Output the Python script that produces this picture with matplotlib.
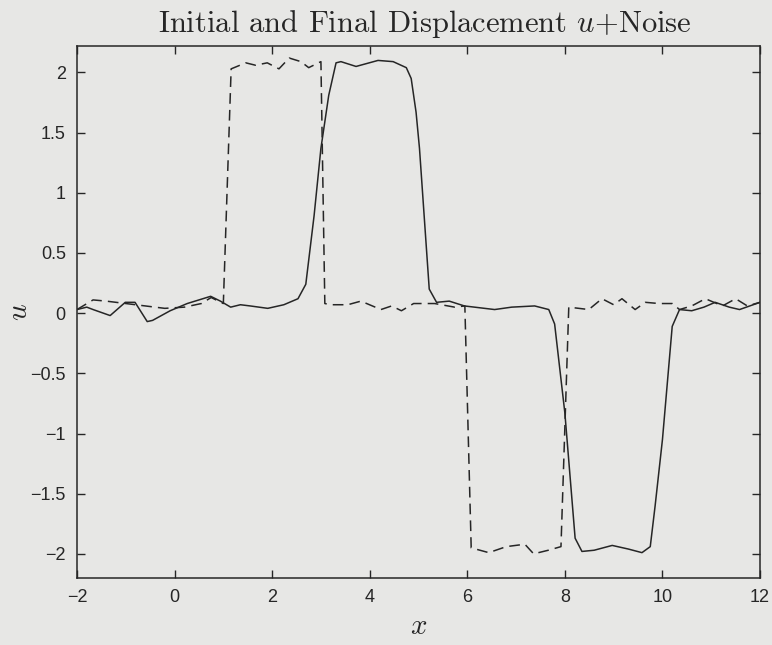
import numpy as np
import matplotlib.pyplot as plt

# initial displacement + noise (dashed)
x_init = [-2.0, -1.67, -1.4, -1.0, -0.6, -0.2, 0.2, 0.55, 0.75, 1.0,
          1.16, 1.46, 1.66, 1.90, 2.14, 2.35, 2.59, 2.75, 3.0,
          3.08, 3.2, 3.55, 3.82, 4.23, 4.45, 4.65, 4.9, 5.33, 5.74, 5.95,
          6.08, 6.44, 6.8, 7.18, 7.36, 7.66, 7.92,
          8.08, 8.49, 8.76, 9.0, 9.17, 9.44, 9.65, 9.93, 10.2, 10.35, 10.6,
          10.88, 11.23, 11.5, 11.74, 12.0]
u_init = [0.03, 0.11, 0.1, 0.08, 0.06, 0.04, 0.05, 0.08, 0.13, 0.08,
          2.03, 2.08, 2.06, 2.08, 2.03, 2.12, 2.09, 2.04, 2.09,
          0.08, 0.07, 0.07, 0.1, 0.03, 0.06, 0.02, 0.08, 0.08, 0.05, 0.06,
          -1.95, -1.99, -1.94, -1.92, -2.0, -1.97, -1.94,
          0.05, 0.03, 0.12, 0.07, 0.12, 0.03, 0.09, 0.08, 0.08, 0.03, 0.06,
          0.12, 0.06, 0.12, 0.06, 0.09]

# final displacement (solid)
x_final = [-2.0, -1.8, -1.67, -1.32, -1.01, -0.81, -0.56, -0.45, -0.09, 0.26,
           0.74, 0.94, 1.15, 1.35, 1.55, 1.91, 2.24, 2.53, 2.69, 2.86,
           3.0, 3.16, 3.31, 3.41, 3.72, 4.17, 4.48, 4.75, 4.85, 4.95,
           5.02, 5.22, 5.37, 5.63, 5.94, 6.56, 6.91, 7.38, 7.67, 7.79,
           8.0, 8.21, 8.35, 8.6, 8.97, 9.3, 9.58, 9.75, 9.85, 10.0,
           10.2, 10.35, 10.6, 10.85, 11.08, 11.37, 11.58, 12.0]
u_final = [0.03, 0.05, 0.03, -0.02, 0.09, 0.09, -0.07, -0.06, 0.02, 0.08,
           0.14, 0.1, 0.05, 0.07, 0.06, 0.04, 0.07, 0.12, 0.24, 0.81,
           1.37, 1.81, 2.08, 2.09, 2.05, 2.1, 2.09, 2.04, 1.95, 1.67,
           1.37, 0.2, 0.09, 0.1, 0.06, 0.03, 0.05, 0.06, 0.03, -0.09,
           -0.83, -1.87, -1.98, -1.97, -1.93, -1.96, -1.99, -1.94, -1.6, -1.05,
           -0.11, 0.03, 0.02, 0.05, 0.09, 0.05, 0.03, 0.09]

xticks = [-2, 0, 2, 4, 6, 8, 10, 12]
yticks = [-2, -1.5, -1, -0.5, 0, 0.5, 1, 1.5, 2]

bg = '#e7e7e5'
ink = '#262626'

plt.rcParams['font.family'] = ['Liberation Sans', 'DejaVu Sans']
plt.rcParams['mathtext.fontset'] = 'cm'

fig = plt.figure(figsize=(7.72, 6.45), dpi=100, facecolor=bg)
ax = fig.add_axes([0.0997, 0.104, 0.8848, 0.8247], facecolor=bg)

ax.plot(x_final, u_final, color=ink, lw=1.1)
ax.plot(x_init, u_init, color=ink, lw=1.1, dashes=(7, 4))

ax.set_xlim(-2, 12)
ax.set_ylim(-2.2, 2.22)
ax.set_xticks(xticks)
ax.set_yticks(yticks)
ax.set_yticklabels(['\u22122', '\u22121.5', '\u22121', '\u22120.5', '0', '0.5', '1', '1.5', '2'])
ax.set_xticklabels(['\u22122', '0', '2', '4', '6', '8', '10', '12'])
ax.tick_params(direction='in', length=6, width=1, colors=ink, labelsize=13,
               top=True, right=True, pad=8)
for s in ax.spines.values():
    s.set_color(ink)
    s.set_linewidth(1.1)

ax.set_title('Initial and Final Displacement $u$+Noise', fontsize=22,
             family='cmr10', color=ink, pad=10, x=0.509)
ax.set_xlabel('$x$', fontsize=21, color=ink, labelpad=4)
ax.set_ylabel('$u$', fontsize=21, color=ink, labelpad=-2)

fig.savefig('out.png', dpi=100, facecolor=bg)
